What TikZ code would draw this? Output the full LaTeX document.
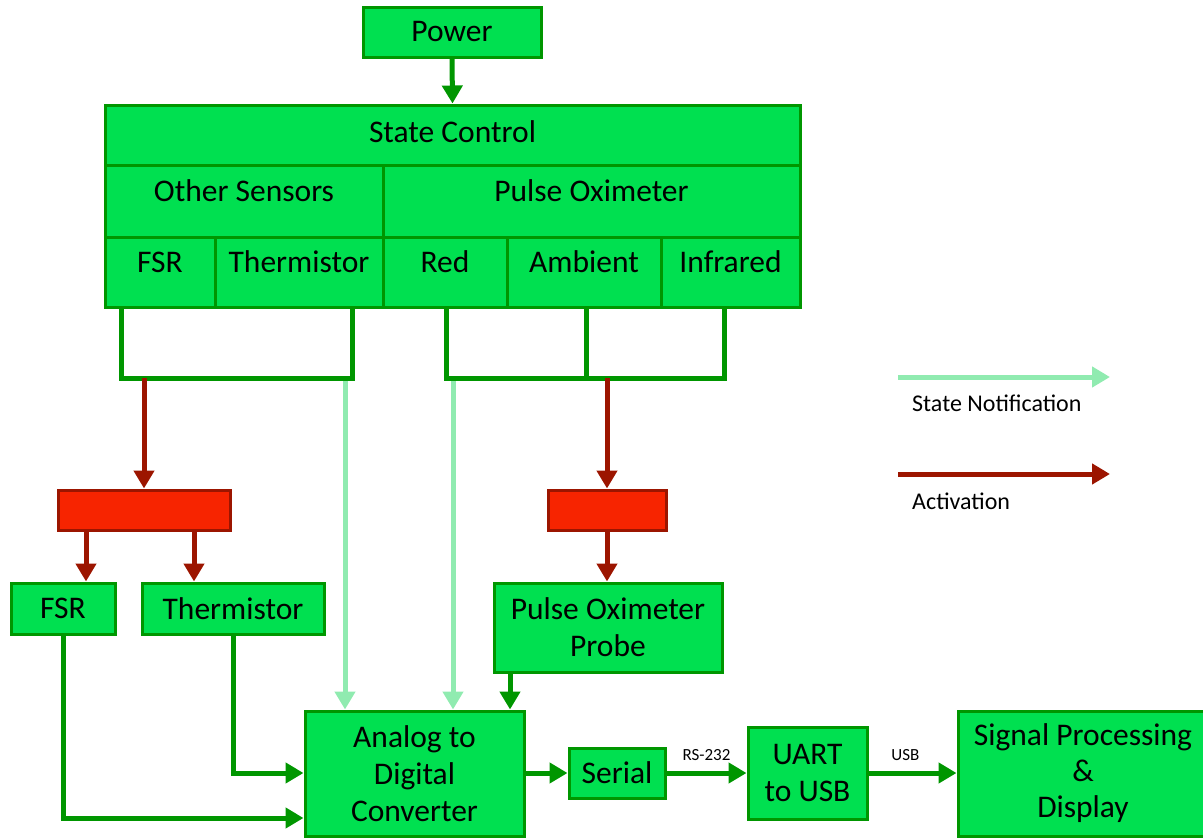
\documentclass[tikz,border=0pt]{standalone}
\usepackage{fontspec}
\setmainfont{Carlito}
\usetikzlibrary{arrows.meta,calc}
\definecolor{boxg}{RGB}{0,224,80}
\definecolor{dkg}{RGB}{0,150,0}
\definecolor{ltg}{RGB}{144,235,176}
\definecolor{redf}{RGB}{247,36,0}
\definecolor{redd}{RGB}{156,21,0}
\begin{document}
\begin{tikzpicture}[x=1pt,y=-1pt,
 gbox/.style={draw=dkg, fill=boxg, line width=3pt, inner sep=0pt, align=center, font=\fontsize{31.5}{37}\selectfont},
 hitext/.style={text height=12pt, text depth=12pt},
 rbox/.style={draw=redd, fill=redf, line width=3pt, inner sep=0pt},
 tip/.style={-{Triangle[width=20pt,length=18pt]}},
 garr/.style={draw=dkg, line width=5pt, tip},
 rarr/.style={draw=redd, line width=5pt, tip},
 larr/.style={draw=ltg, line width=5pt, tip},
 bracket/.style={draw=dkg, line width=5pt, line join=miter},
 lbl/.style={font=\fontsize{17}{20}\selectfont, inner sep=0pt},
 leg/.style={font=\fontsize{24}{28}\selectfont, anchor=west, inner sep=0pt}]
\useasboundingbox (0,0) rectangle (1203,838);

% top
\node[gbox, minimum width=178pt, minimum height=50pt] (pw) at (452,32) {Power};
\node[gbox, minimum width=695pt, minimum height=60pt, text height=20pt, text depth=6pt] (sc) at (452.5,135) {State Control};
\node[gbox, hitext, minimum width=278pt, minimum height=72pt] (os) at (244,201) {Other Sensors};
\node[gbox, hitext, minimum width=417pt, minimum height=72pt] (po) at (591.5,201) {Pulse Oximeter};
\node[gbox, hitext, minimum width=110pt, minimum height=70pt] (fsr0) at (160,272) {FSR};
\node[gbox, hitext, minimum width=168pt, minimum height=70pt] (th0) at (299,272) {Thermistor};
\node[gbox, hitext, minimum width=124pt, minimum height=70pt] (rd0) at (445,272) {Red};
\node[gbox, hitext, minimum width=154pt, minimum height=70pt] (amb0) at (584,272) {Ambient};
\node[gbox, hitext, minimum width=139pt, minimum height=70pt] (ir0) at (730.5,272) {Infrared};

\draw[garr] (pw.south) -- (sc.north);

% brackets
\coordinate (b1) at (121,378);
\coordinate (b2) at (352,378);
\coordinate (b3) at (446,378);
\coordinate (b4) at (724,378);
\coordinate (b5) at (586,378);
\draw[bracket] (b1 |- fsr0.south) -- (b1) -- (b2) -- (b2 |- th0.south);
\draw[bracket] (b3 |- rd0.south) -- (b3) -- (b4) -- (b4 |- ir0.south);
\draw[bracket] (b5 |- amb0.south) -- (b5);

% red boxes
\node[rbox, minimum width=172pt, minimum height=40pt] (rb1) at (144,510) {};
\node[rbox, minimum width=118pt, minimum height=40pt] (rb2) at (607,510) {};

% sensors
\node[gbox, minimum width=104pt, minimum height=51pt] (fsr) at (63,608.5) {FSR};
\node[gbox, minimum width=182pt, minimum height=51pt] (th) at (233,608.5) {Thermistor};
\node[gbox, minimum width=228pt, minimum height=89pt] (probe) at (608,627.5) {Pulse Oximeter\\Probe};

% lower chain
\node[gbox, minimum width=219pt, minimum height=125pt] (adc) at (414.5,773.5) {Analog to\\Digital\\Converter};
\node[gbox, minimum width=96pt, minimum height=50pt] (ser) at (617,773) {Serial};
\node[gbox, minimum width=119pt, minimum height=92pt] (uart) at (807.5,773) {UART\\to USB};
\node[gbox, minimum width=250pt, minimum height=125pt, font=\fontsize{31.5}{36}\selectfont] (sp) at (1083,773.5) {Signal Processing\\\&\\Display};

% activation arrows
\draw[rarr] (rb1.north |- b1) -- (rb1.north);
\draw[rarr] (rb2.north |- b5) -- (rb2.north);
\coordinate (f1) at (86,0);
\coordinate (f2) at (194,0);
\draw[rarr] (rb1.south -| f1) -- (fsr.north -| f1);
\draw[rarr] (rb1.south -| f2) -- (th.north -| f2);
\draw[rarr] (rb2.south) -- (probe.north -| rb2.south);

% state notification lines
\coordinate (n1) at (345,381);
\coordinate (n2) at (453,381);
\draw[larr] (n1) -- (adc.north -| n1);
\draw[larr] (n2) -- (adc.north -| n2);

% data arrows
\coordinate (p1) at (510,0);
\draw[garr] (probe.south -| p1) -- (adc.north -| p1);
\coordinate (y1) at (0,818);
\coordinate (y2) at (0,773);
\draw[garr] (fsr.south) |- (y1 -| adc.west);
\draw[garr] (th.south) |- (y2 -| adc.west);
\draw[garr] (adc.east |- ser.west) -- (ser.west);
\draw[garr] (ser.east) -- (uart.west |- ser.east) node[lbl, midway, above=10pt] (rs) {RS-232};
\draw[garr] (uart.east) -- (sp.west |- uart.east) node[lbl, pos=0.42, above=10pt] (usb) {USB};

% legend
\coordinate (l1s) at (898,377);
\coordinate (l1e) at (1110,377);
\coordinate (l2s) at (898,474);
\coordinate (l2e) at (1110,474);
\draw[larr] (l1s) -- (l1e);
\draw[rarr] (l2s) -- (l2e);
\node[leg] (l1t) at (912,403) {State Notification};
\node[leg] (l2t) at (912,501) {Activation};
\end{tikzpicture}
\end{document}
